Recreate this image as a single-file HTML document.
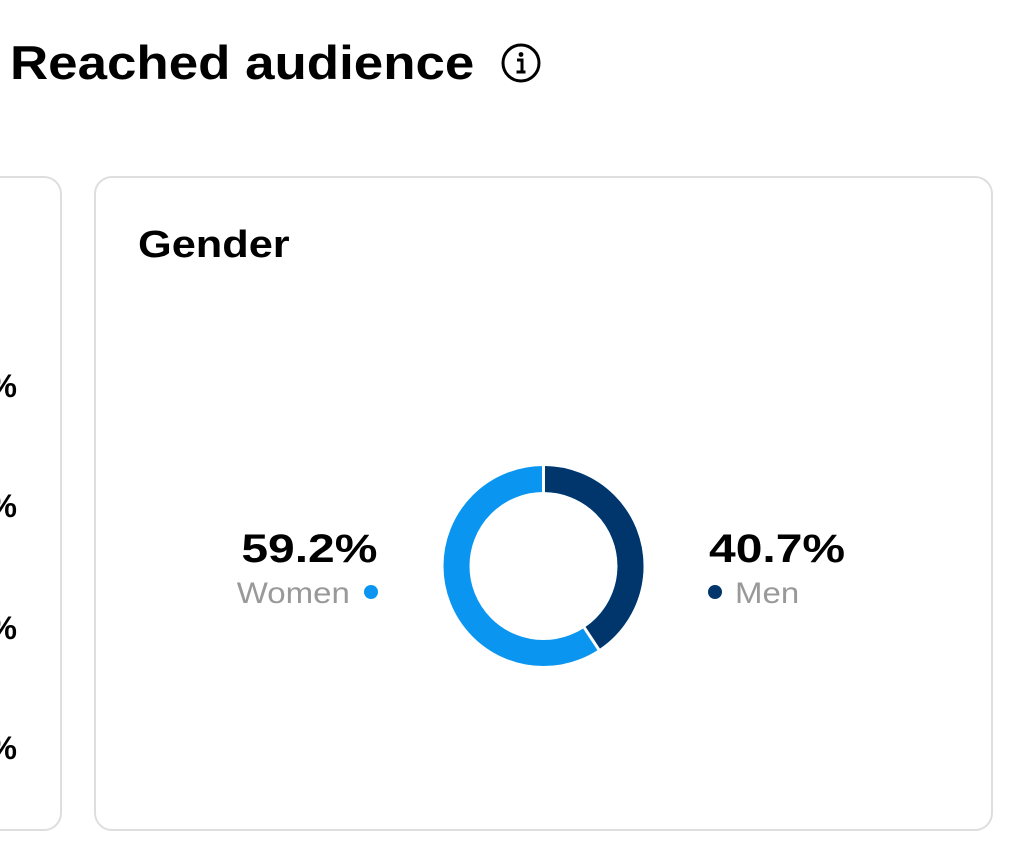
<!DOCTYPE html>
<html><head><style>
body{margin:0;width:1024px;height:855px;background:#fff;position:relative;overflow:hidden;font-family:"Liberation Sans",sans-serif;color:#000}
.a{position:absolute;white-space:nowrap}
.card{position:absolute;border:2px solid #dedede;border-radius:18px;box-sizing:border-box}
</style></head><body>
<div class="a" style="left:10px;top:35px;font-size:47px;font-weight:bold;transform:scaleX(1.125);transform-origin:0 0">Reached audience</div>
<svg class="a" style="left:500px;top:42px" width="42" height="42" viewBox="0 0 42 42">
<circle cx="21" cy="21" r="18" fill="none" stroke="#000" stroke-width="3"/>
<circle cx="21" cy="12.5" r="2.4" fill="#000"/>
<path d="M17 18h5v12M16.5 30h9" stroke="#000" stroke-width="3" fill="none"/>
</svg>
<div class="card" style="left:-40px;top:176px;width:102px;height:655px"></div>
<div class="card" style="left:94px;top:176px;width:899px;height:655px"></div>
<div class="a" style="right:1007px;top:368px;font-size:32px;font-weight:bold">0%</div>
<div class="a" style="right:1007px;top:488px;font-size:32px;font-weight:bold">0%</div>
<div class="a" style="right:1007px;top:610px;font-size:32px;font-weight:bold">0%</div>
<div class="a" style="right:1007px;top:730px;font-size:32px;font-weight:bold">0%</div>
<div class="a" style="left:138px;top:224px;font-size:38px;font-weight:bold;transform:scaleX(1.14);transform-origin:0 0">Gender</div>
<div class="a" style="right:647px;top:527px;font-size:40px;font-weight:bold;transform:scaleX(1.2);transform-origin:100% 0">59.2%</div>
<div class="a" style="right:674px;top:577px;font-size:30px;color:#999;transform:scaleX(1.1);transform-origin:100% 0">Women</div>
<div class="a" style="left:364px;top:585px;width:14px;height:14px;border-radius:50%;background:#0a96f0"></div>
<div class="a" style="left:709px;top:527px;font-size:40px;font-weight:bold;transform:scaleX(1.2);transform-origin:0 0">40.7%</div>
<div class="a" style="left:708px;top:585px;width:14px;height:14px;border-radius:50%;background:#00366b"></div>
<div class="a" style="left:735px;top:577px;font-size:30px;color:#999;transform:scaleX(1.1);transform-origin:0 0">Men</div>
<svg class="a" style="left:0;top:0" width="1024" height="855">
<g transform="translate(543.5,566) rotate(-90)">
<circle r="87" fill="none" stroke="#0a96f0" stroke-width="26"/>
<circle r="87" fill="none" stroke="#00366b" stroke-width="26" stroke-dasharray="222.5 1000"/>
<line x1="72" y1="0" x2="102" y2="0" stroke="#fff" stroke-width="3"/>
<line x1="72" y1="0" x2="102" y2="0" stroke="#fff" stroke-width="3" transform="rotate(146.5)"/>
</g>
</svg>
</body></html>
